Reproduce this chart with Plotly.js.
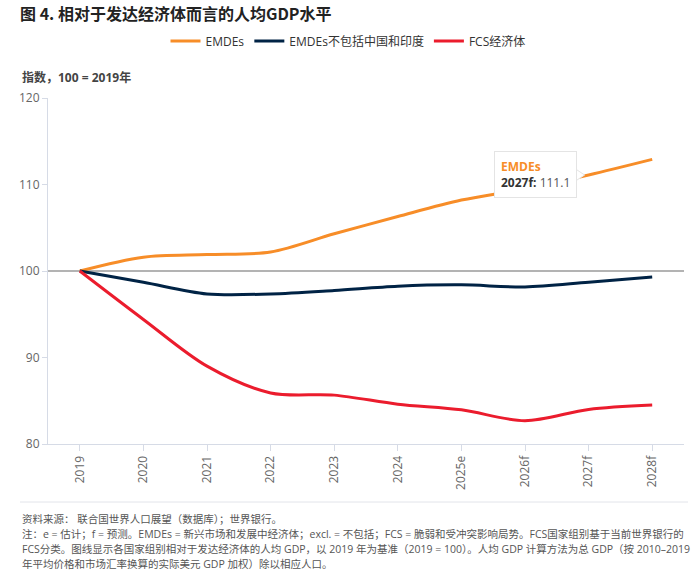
<!DOCTYPE html>
<html>
<head>
<meta charset="utf-8">
<script src="https://cdn.plot.ly/plotly-3.0.1.min.js"></script>
<style>
  html, body { margin: 0; padding: 0; background: #fff; }
  #chart { width: 700px; height: 575px; }
</style>
</head>
<body>
<div id="chart"></div>
<script>
// ---- data ----
const YEARS = ["2019", "2020", "2021", "2022", "2023", "2024", "2025e", "2026f", "2027f", "2028f"];
const EMDES = [100, 101.6, 101.9, 102.2, 104.3, 106.3, 108.2, 109.5, 111.1, 112.9];
const EMDES_EXCL = [100, 98.7, 97.35, 97.35, 97.75, 98.25, 98.4, 98.15, 98.7, 99.3];
const FCS = [100, 94.4, 89.0, 85.9, 85.65, 84.6, 83.95, 82.7, 84.0, 84.5];
const SERIES_NAMES = ["EMDEs", "EMDEs不包括中国和印度", "FCS经济体"];
const Y_TICKS = [80, 90, 100, 110, 120];
const BASELINE = 100;
const TOOLTIP_INDEX = 8;

const FONT = "Open Sans, Noto Sans CJK SC, sans-serif";
const COLORS = ["#F78D28", "#002345", "#EB1C2D"];

// pixel -> paper helpers (plot area: x 48..684, y 98..444)
const L = 48, R = 16, T = 98, B = 131, W = 700, H = 575;
const PW = W - L - R, PH = H - T - B;
const px = v => (v - L) / PW;
const py = v => (H - B - v) / PH;

const mk = (y, i) => ({
  type: "scatter", mode: "lines", x: YEARS, y: y, name: SERIES_NAMES[i],
  line: { color: COLORS[i], width: 3, shape: "spline", smoothing: 0.9 },
  hoverinfo: "skip"
});
const data = [mk(EMDES, 0), mk(EMDES_EXCL, 1), mk(FCS, 2)];

const notes = [
  "资料来源： 联合国世界人口展望（数据库）；世界银行。",
  "注：e = 估计；f = 预测。EMDEs = 新兴市场和发展中经济体；excl. = 不包括；FCS = 脆弱和受冲突影响局势。FCS国家组别基于当前世界银行的",
  "FCS分类。图线显示各国家组别相对于发达经济体的人均 GDP，以 2019 年为基准（2019 = 100）。人均 GDP 计算方法为总 GDP（按 2010–2019",
  "年平均价格和市场汇率换算的实际美元 GDP 加权）除以相应人口。"
];
const noteY = [519, 534, 549, 564];

const annotations = [
  {
    xref: "paper", yref: "paper", x: px(20), y: py(78), xanchor: "left", yanchor: "middle",
    showarrow: false, text: "<b>指数，100 = 2019年</b>",
    font: { family: FONT, size: 12, color: "#444" }
  },
  {
    xref: "x", yref: "y", x: YEARS[TOOLTIP_INDEX], y: EMDES[TOOLTIP_INDEX],
    xanchor: "right", yanchor: "middle", xshift: -12, showarrow: false, align: "left",
    text: '<span style="color:' + COLORS[0] + '"><b>' + SERIES_NAMES[0] + '</b></span><br><b>' +
          YEARS[TOOLTIP_INDEX] + ':</b> <span style="color:#555">' + EMDES[TOOLTIP_INDEX].toFixed(1) + '</span>',
    font: { family: FONT, size: 12, color: "#333" },
    bgcolor: "#ffffff", bordercolor: "#e4e4e4", borderwidth: 1, borderpad: 6
  }
];
notes.forEach((t, i) => annotations.push({
  xref: "paper", yref: "paper", x: px(20), y: py(noteY[i]), xanchor: "left", yanchor: "middle",
  showarrow: false, text: t, font: { family: FONT, size: 10.5, color: "#555" }
}));

const layout = {
  width: W, height: H,
  margin: { l: L, r: R, t: T, b: B },
  paper_bgcolor: "#fff", plot_bgcolor: "#fff",
  font: { family: FONT, size: 12, color: "#666" },
  title: {
    text: "<b>图 4. 相对于发达经济体而言的人均GDP水平</b>",
    xref: "container", yref: "container", x: 20 / W, y: (H - 14) / H,
    xanchor: "left", yanchor: "middle",
    font: { family: "Noto Sans CJK SC, Open Sans, sans-serif", size: 16, color: "#222" }
  },
  showlegend: true,
  legend: {
    orientation: "h", x: px(348), xanchor: "center", y: py(41), yanchor: "middle",
    font: { family: FONT, size: 12, color: "#333" }, itemwidth: 30, tracegroupgap: 0
  },
  xaxis: {
    type: "category", range: [-0.5, YEARS.length - 0.5],
    showgrid: false, zeroline: false, showline: true, linecolor: "#d6dbe6", linewidth: 1,
    ticks: "outside", ticklen: 6, tickcolor: "#d6dbe6", tickangle: -90,
    tickfont: { family: FONT, size: 12, color: "#666" }, fixedrange: true
  },
  yaxis: {
    range: [80, 120], tickvals: Y_TICKS, showgrid: false, zeroline: false,
    showline: true, linecolor: "#d6dbe6", linewidth: 1,
    ticks: "outside", ticklen: 5, tickcolor: "#d6dbe6",
    tickfont: { family: FONT, size: 12, color: "#666" }, fixedrange: true
  },
  shapes: [
    { type: "line", xref: "paper", yref: "y", x0: 0, x1: 1, y0: BASELINE, y1: BASELINE,
      line: { color: "#9a9a9a", width: 1.5 }, layer: "below" },
    { type: "line", xref: "paper", yref: "paper", x0: px(20), x1: px(688), y0: py(502), y1: py(502),
      line: { color: "#e2e4ea", width: 1 } },
    { type: "path", xref: "x", yref: "y", xsizemode: "pixel", ysizemode: "pixel",
      xanchor: TOOLTIP_INDEX, yanchor: EMDES[TOOLTIP_INDEX],
      path: "M-13,-6 L-4,0 L-13,6 Z", fillcolor: "#ffffff", line: { color: "#e4e4e4", width: 1 } },
    { type: "path", xref: "x", yref: "y", xsizemode: "pixel", ysizemode: "pixel",
      xanchor: TOOLTIP_INDEX, yanchor: EMDES[TOOLTIP_INDEX],
      path: "M-14,-5.5 L-12.5,-5.5 L-12.5,5.5 L-14,5.5 Z", fillcolor: "#ffffff", line: { width: 0 } }
  ],
  annotations: annotations
};

Plotly.newPlot("chart", data, layout, { displayModeBar: false, staticPlot: true });
</script>
</body>
</html>
